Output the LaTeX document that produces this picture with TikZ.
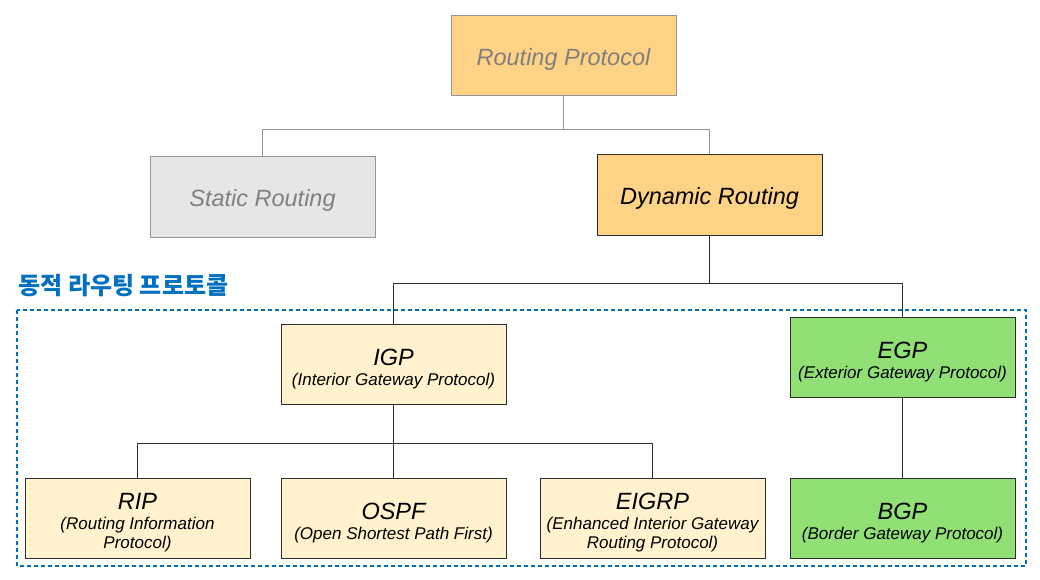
\documentclass[tikz,border=0pt]{standalone}
\usepackage{fontspec}
\setmainfont{Liberation Sans}
\newfontfamily\kofont{Noto Sans CJK KR}
\usetikzlibrary{positioning,calc}
\definecolor{orangebox}{RGB}{255,211,133}
\definecolor{greybox}{RGB}{230,230,230}
\definecolor{paleyellow}{RGB}{255,242,204}
\definecolor{greenbox}{RGB}{145,224,118}
\definecolor{darkblue}{RGB}{0,112,192}
\definecolor{greytext}{RGB}{128,128,128}
\definecolor{greyline}{RGB}{150,150,150}
\definecolor{darkline}{RGB}{45,45,45}
\newcommand{\subtxt}{\fontsize{17}{19}\selectfont}

\tikzset{
  box/.style={draw=darkline, line width=1pt, minimum width=225pt, minimum height=80pt,
    inner sep=0pt, align=center, font=\itshape\fontsize{23.5}{19}\selectfont, lift=23pt},
  lift/.style={execute at begin node={\rule{0pt}{#1}}},
  greybox/.style={box, draw=greyline, text=greytext},
  link/.style={draw=darkline, line width=1pt},
  greylink/.style={draw=greyline, line width=1pt}
}

\begin{document}
\begin{tikzpicture}[x=1pt,y=-1pt]
        \useasboundingbox[fill=white] (0,0) rectangle (1040,580);

        % top levels
        \node[greybox, fill=orangebox] (routing) at (563.5,56) {Routing Protocol};
        \node[greybox, fill=greybox] (static) at (262.5,197) {Static Routing};
        \node[box, fill=orangebox] (dynamic) at (709.5,195) {Dynamic Routing};

        % dynamic routing protocols
        \node[anchor=west, text=darkblue, font=\kofont\bfseries\fontsize{24}{28}\selectfont] (title) at (15,286) {동적 라우팅 프로토콜};
        \draw[darkblue, line width=2pt, dash pattern=on 4pt off 3pt] (17,310) rectangle (1026,566);

        \node[box, lift=46pt, fill=paleyellow] (igp) at (393.5,364) {IGP\\[1pt]\subtxt (Interior Gateway Protocol)};
        \node[box, lift=46pt, fill=greenbox] (egp) at (902.5,357) {EGP\\[1pt]\subtxt (Exterior Gateway Protocol)};
        \node[box, lift=64pt, fill=paleyellow] (rip) at (137.5,518) {RIP\\[1pt]\subtxt (Routing Information\\\subtxt Protocol)};
        \node[box, lift=46pt, fill=paleyellow] (ospf) at (393.5,518) {OSPF\\[1pt]\subtxt (Open Shortest Path First)};
        \node[box, lift=64pt, fill=paleyellow] (eigrp) at (652.5,518) {EIGRP\\[1pt]\subtxt (Enhanced Interior Gateway\\\subtxt Routing Protocol)};
        \node[box, lift=46pt, fill=greenbox] (bgp) at (902.5,518) {BGP\\[1pt]\subtxt (Border Gateway Protocol)};

        % connectors
        \draw[greylink] (routing.south) -- ++(0,33) coordinate (routingjoin);
        \draw[greylink] (routingjoin) -| (static.north);
        \draw[greylink] (routingjoin) -| (dynamic.north);

        \draw[link] (dynamic.south) -- ++(0,48) coordinate (dynamicjoin);
        \draw[link] (dynamicjoin) -| (igp.north);
        \draw[link] (dynamicjoin) -| (egp.north);

        \draw[link] (igp.south) -- ++(0,39) coordinate (igpjoin);
        \draw[link] (igpjoin) -| (rip.north);
        \draw[link] (igpjoin) -- (ospf.north);
        \draw[link] (igpjoin) -| (eigrp.north);

        \draw[link] (egp.south) -- (bgp.north);

      \end{tikzpicture}
\end{document}
